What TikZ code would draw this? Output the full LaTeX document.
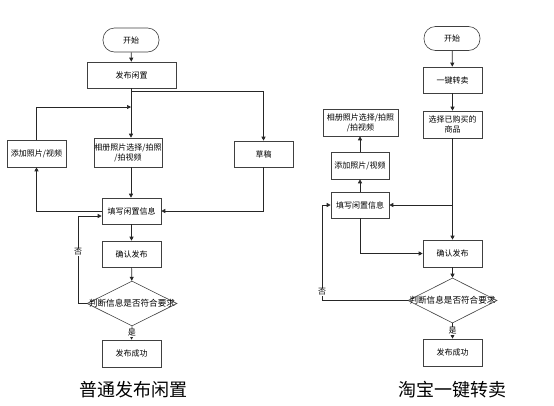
\documentclass[tikz,border=0pt]{standalone}
\usepackage{fontspec}
\setmainfont{Noto Sans CJK SC}
\usetikzlibrary{arrows.meta,shapes.geometric,calc}
\tikzset{
  box/.style={draw=black!75, line width=0.6pt, fill=white, minimum width=#1, inner sep=0.5pt, align=center, font=\fontsize{8}{10}\selectfont},
  box/.default=59pt,
  term/.style={draw=black!75, line width=0.6pt, rounded corners=11.5pt, minimum width=56pt, minimum height=24pt, font=\fontsize{8}{10}\selectfont},
  dec/.style={draw=black!75, line width=0.6pt, diamond, aspect=2, minimum width=90pt, minimum height=45pt, inner sep=0pt},
  dtext/.style={inner sep=0pt, font=\fontsize{8.6}{10}\selectfont},
  conn/.style={draw=black!85, line width=0.7pt, -{Triangle[length=4pt,width=4pt]}},
  plain/.style={draw=black!85, line width=0.7pt},
  lbl/.style={fill=white, inner sep=0.5pt, font=\fontsize{8}{9}\selectfont},
  ttl/.style={font=\fontsize{18}{20}\selectfont}
}
\begin{document}
\begin{tikzpicture}[x=1pt,y=-1pt]
\useasboundingbox (0,0) rectangle (554,405);
% ---------- left chart ----------
\node[term] (s1) at (131,40) {开始};
\node[box=89pt, minimum height=26pt] (p1) at (131.5,75) {发布闲置};
\node[box=68pt, minimum height=29pt] (alb1) at (128,152.5) {相册照片选择/拍照\\/拍视频};
\node[box=59pt, minimum height=27pt] (add1) at (36.5,153.5) {添加照片/视频};
\node[box=59pt, minimum height=26pt] (draft) at (263.5,154) {草稿};
\node[box=59pt, minimum height=26pt] (fill1) at (131.5,211) {填写闲置信息};
\node[box=59pt, minimum height=26pt] (conf1) at (131.5,254) {确认发布};
\node[dec] (dec1) at (132,303.5) {};
\node[dtext] (dt1) at (dec1.center) {判断信息是否符合要求};
\node[box=59pt, minimum height=27pt] (succ1) at (131.5,353.5) {发布成功};
\node[ttl] (t1) at (133,390) {普通发布闲置};
\coordinate (b1) at (131,91);
\coordinate (j1) at (131,107);
\coordinate (k1) at (78,303.5);

\draw[conn] (s1) -- (p1);
\draw[conn] (p1.south -| b1) -- (b1 |- alb1.north);
\draw[conn] (b1) -| (draft.north);
\draw[conn] (add1.north) |- (j1);
\draw[conn] (fill1.west) -| (add1.south);
\draw[conn] (draft.south) |- (fill1.east);
\draw[conn] (b1 |- alb1.south) -- (b1 |- fill1.north);
\draw[conn] (fill1) -- (conf1);
\draw[conn] (conf1) -- (dec1);
\draw[conn] (dec1.south) -- node[lbl] (y1) {是} (succ1.north);
\draw[plain] (dec1.west) -- (k1);
\draw[conn] (k1) |- ([yshift=-5pt]fill1.west);
\node[lbl] (n1) at (78,252) {否};

% ---------- right chart ----------
\node[term] (s2) at (452,38.5) {开始};
\node[box=59pt, minimum height=26pt] (one) at (452.5,80) {一键转卖};
\node[box=59pt, minimum height=27pt] (sel) at (452.5,124.5) {选择已购买的\\商品};
\node[box=75pt, minimum height=27pt] (alb2) at (360.5,122.5) {相册照片选择/拍照\\/拍视频};
\node[box=58pt, minimum height=27pt] (add2) at (360,165.5) {添加照片/视频};
\node[box=58pt, minimum height=26pt] (fill2) at (360,205) {填写闲置信息};
\node[box=59pt, minimum height=27pt] (conf2) at (452.5,253.5) {确认发布};
\node[dec, minimum width=89pt] (dec2) at (452.5,300.5) {};
\node[dtext] (dt2) at (dec2.center) {判断信息是否符合要求};
\node[box=59pt, minimum height=27pt] (succ2) at (452.5,352.5) {发布成功};
\node[ttl] (t2) at (452,390) {淘宝一键转卖};
\coordinate (b2) at (452.5,205);
\coordinate (k2) at (322,300.5);

\draw[conn] (s2) -- (one);
\draw[conn] (one) -- (sel);
\draw[conn] (sel) -- (conf2);
\draw[conn] (b2) -- (fill2.east);
\draw[conn] (fill2) -- (add2);
\draw[conn] (add2) -- (alb2.south -| add2);
\draw[conn] (fill2.south) |- (conf2.west);
\draw[conn] (conf2) -- (dec2);
\draw[conn] (dec2.south) -- node[lbl] (y2) {是} (succ2.north);
\draw[plain] (dec2.west) -- (k2);
\draw[conn] (k2) |- (fill2.west);
\node[lbl] (n2) at (322,292) {否};
\end{tikzpicture}
\end{document}
